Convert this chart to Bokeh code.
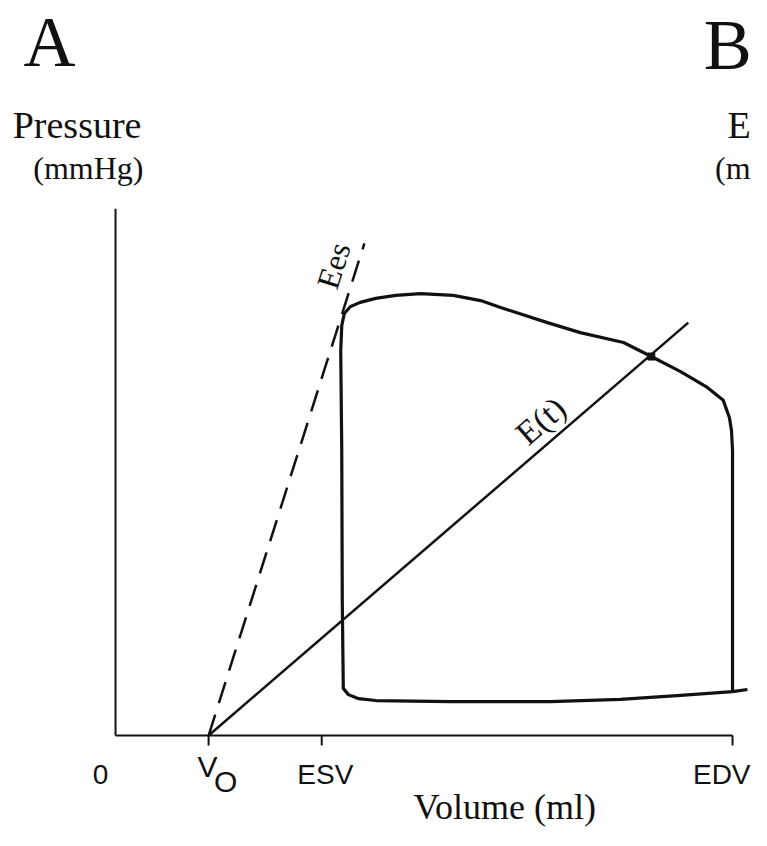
from bokeh.plotting import figure
from bokeh.models import Range1d, Label
from bokeh.embed import file_html
from bokeh.resources import INLINE

# ---- data (volume in ml, pressure in mmHg) ----
V0 = 18.1
ESV = 40.1
EDV = 120.0
tick_vols = [V0, ESV, EDV]
tick_len = 2.7          # tick length in mmHg units (downwards)
p_axis_top = 143.0

loop_vol = [120.0, 120.0, 120.0, 119.8, 119.4, 118.2, 115.1, 109.9, 104.2, 98.8, 90.4,
            84.0, 74.9, 71.0, 65.7, 59.3, 54.5, 50.6, 47.6, 45.7, 44.5, 44.0, 43.8,
            44.0, 44.1, 44.3, 45.3, 47.3, 50.6, 65.2, 84.6, 98.2, 109.9, 120.0, 122.9]
loop_pres = [11.9, 36.7, 77.4, 82.8, 86.3, 91.0, 94.5, 98.8, 102.9, 106.7, 109.4,
             112.1, 116.2, 118.1, 119.5, 120.0, 119.5, 118.7, 117.6, 116.5, 114.6, 111.3, 104.5,
             77.4, 36.7, 12.8, 11.1, 10.0, 9.5, 9.2, 9.2, 9.8, 10.9, 11.9, 12.5]

ees_vol = [V0, 48.4]
ees_pres = [0.0, 133.6]
et_vol = [V0, 111.4]
et_pres = [0.0, 112.1]
cross_vol = [104.2]
cross_pres = [102.9]

SERIF = "Liberation Serif"
SANS = "Liberation Sans"
INK = "#111111"

p = figure(width=751, height=830, output_backend="svg", toolbar_location=None,
           x_axis_type=None, y_axis_type=None,
           x_range=Range1d(-22.37, 123.69), y_range=Range1d(-25.79, 199.57),
           min_border=0)
p.outline_line_color = None
p.xgrid.visible = False
p.ygrid.visible = False
p.background_fill_color = "white"
p.border_fill_color = "white"

# axes
p.segment(x0=[0, 0], y0=[0, 0], x1=[EDV, 0], y1=[0, p_axis_top],
          line_width=2, line_color=INK)
p.segment(x0=tick_vols, y0=[0] * 3, x1=tick_vols, y1=[-tick_len] * 3,
          line_width=2, line_color=INK)

# lines
p.line(ees_vol, ees_pres, line_width=2.5, line_color=INK, line_dash="22 12")
p.line(et_vol, et_pres, line_width=2.5, line_color=INK)
p.line(loop_vol, loop_pres, line_width=3.2, line_color=INK, line_join="round")
p.scatter(cross_vol, cross_pres, size=7, marker="square", color=INK)

def lab(x, y, text, font, size, align="left", baseline="alphabetic", angle=0):
    p.add_layout(Label(x=x, y=y, text=text, text_font=font, text_font_size=size,
                       text_align=align, text_baseline=baseline, angle=angle,
                       angle_units="deg", text_color=INK))

lab(-17.9, 188.2, "A", SERIF, "72px")
lab(114.4, 187.6, "B", SERIF, "72px")
lab(-20.0, 165.9, "Pressure", SERIF, "38px")
lab(-16.0, 154.0, "(mmHg)", SERIF, "32px")
lab(119.0, 165.9, "E", SERIF, "38px")
lab(123.5, 154.0, "(m", SERIF, "32px", align="right")
lab(-2.9, -10.6, "0", SANS, "28px", align="center")
lab(17.9, -8.4, "V", SANS, "30px", align="center")
lab(21.4, -12.5, "O", SANS, "30px", align="center")
lab(40.8, -10.6, "ESV", SANS, "28px", align="center")
lab(123.5, -10.6, "EDV", SANS, "28px", align="right")
lab(75.7, -19.5, "Volume (ml)", SERIF, "36px", align="center")
lab(42.4, 127.6, "Ees", SERIF, "32px", align="center", baseline="middle", angle=72.5)
lab(82.7, 85.5, "E(t)", SERIF, "34px", align="center", baseline="middle", angle=41)

open("out.html", "w").write(file_html(p, INLINE))
